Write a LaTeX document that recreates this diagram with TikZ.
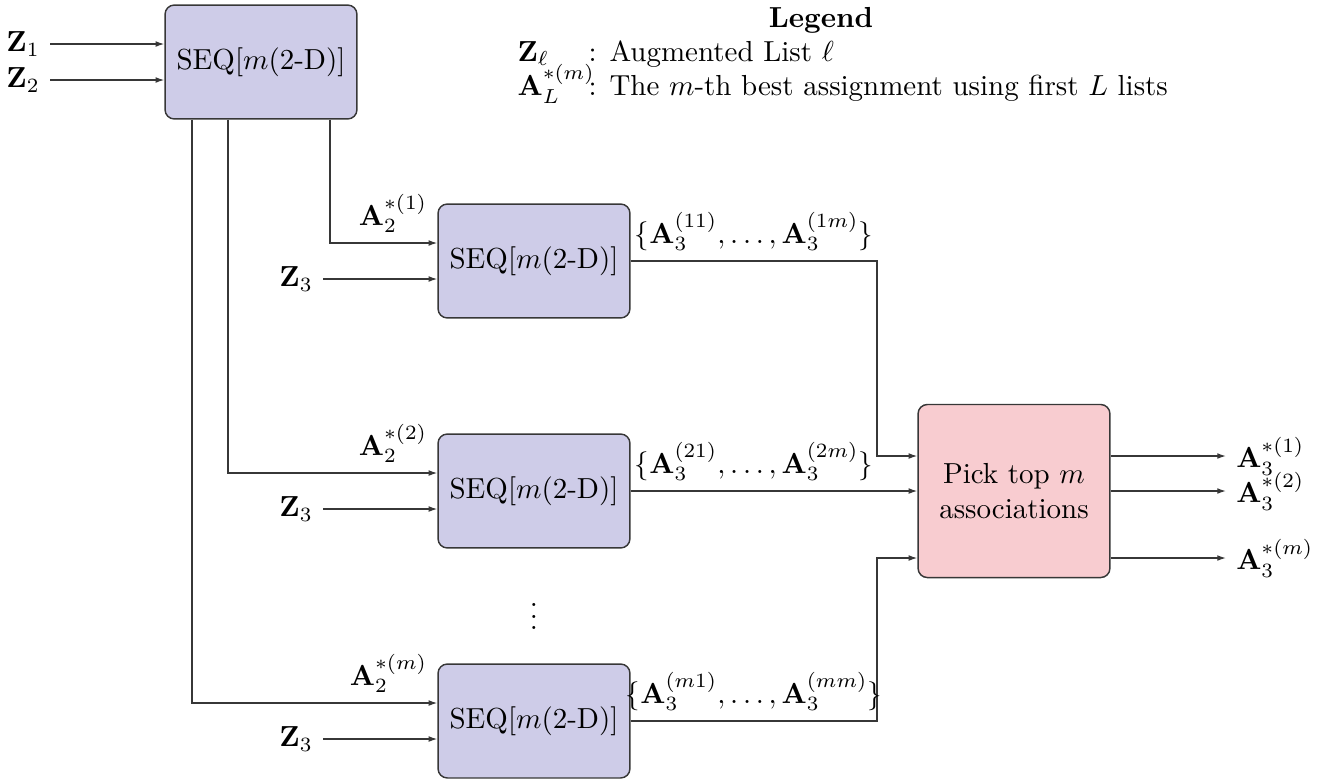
\documentclass[tikz,border=0pt]{standalone}
\usetikzlibrary{arrows.meta,calc}
\definecolor{seqfill}{RGB}{206,204,232}
\definecolor{pickfill}{RGB}{248,204,208}
\definecolor{edgec}{RGB}{55,55,55}
\begin{document}
\begin{tikzpicture}[x=0.345pt,y=-0.345pt,
  seqbox/.style={draw=edgec, fill=seqfill, rounded corners=3.2pt, minimum width=66.2pt, minimum height=39.3pt, inner sep=0pt, line width=0.5pt},
  pickbox/.style={draw=edgec, fill=pickfill, rounded corners=3.2pt, minimum width=66.2pt, minimum height=59.7pt, inner sep=0pt, line width=0.5pt, align=center},
  arr/.style={draw=edgec, line width=0.45pt, -{Latex[length=3pt,width=2pt]}},
  legtxt/.style={anchor=base west, inner sep=0pt}]
\useasboundingbox (0,0) rectangle (1317,780);

% boxes
\node[seqbox] (seq0) at (261,62) {SEQ[$m$(2-D)]};
\node[seqbox] (seqA) at (534,261) {SEQ[$m$(2-D)]};
\node[seqbox] (seqB) at (534,491) {SEQ[$m$(2-D)]};
\node[seqbox] (seqC) at (534,721) {SEQ[$m$(2-D)]};
\node[pickbox] (pick) at (1014,491) {Pick top $m$\\associations};

% legend
\node[anchor=base] (legtitle) at (821,27) {\textbf{Legend}};
\node[legtxt] (k1) at (517,61) {$\mathbf{Z}_\ell$};
\node[legtxt] (d1) at (588,61) {: Augmented List $\ell$};
\node[legtxt] (k2) at (517,95) {$\mathbf{A}_L^{*(m)}$};
\node[legtxt] (d2) at (588,95) {: The $m$-th best assignment using first $L$ lists};

% Z inputs to the first box
\node[anchor=east] (z1) at (50,44) {$\mathbf{Z}_1$};
\node[anchor=east] (z2) at (50,80) {$\mathbf{Z}_2$};
\draw[arr] (z1.east) -- (z1.east -| seq0.west);
\draw[arr] (z2.east) -- (z2.east -| seq0.west);

% vertical feeds
\coordinate (x1) at (330,0);
\coordinate (x2) at (228,0);
\coordinate (x3) at (192,0);
\coordinate (xr) at (877,0);

\coordinate (inA) at ($(seqA.west)+(0,-18)$);
\coordinate (inB) at ($(seqB.west)+(0,-18)$);
\coordinate (inC) at ($(seqC.west)+(0,-18)$);
\draw[arr] (seq0.south -| x1) |- (inA);
\draw[arr] (seq0.south -| x2) |- (inB);
\draw[arr] (seq0.south -| x3) |- (inC);
\node[anchor=south east] (lA) at (inA) {$\mathbf{A}_2^{*(1)}$};
\node[anchor=south east] (lB) at (inB) {$\mathbf{A}_2^{*(2)}$};
\node[anchor=south east] (lC) at (inC) {$\mathbf{A}_2^{*(m)}$};

% Z3 inputs
\node[anchor=east] (z3a) at (323,279) {$\mathbf{Z}_3$};
\node[anchor=east] (z3b) at (323,509) {$\mathbf{Z}_3$};
\node[anchor=east] (z3c) at (323,739) {$\mathbf{Z}_3$};
\draw[arr] (z3a.east) -- (z3a.east -| seqA.west);
\draw[arr] (z3b.east) -- (z3b.east -| seqB.west);
\draw[arr] (z3c.east) -- (z3c.east -| seqC.west);

% dots
\node (dots) at (534,608) {$\vdots$};

% outputs to pick
\coordinate (pA) at ($(pick.west)+(0,-35)$);
\coordinate (pC) at ($(pick.west)+(0,67)$);
\draw[arr] (seqA.east) -- (seqA.east -| xr) |- (pA);
\draw[arr] (seqB.east) -- (pick.west);
\draw[arr] (seqC.east) -- (seqC.east -| xr) |- (pC);
\node[anchor=south] (oA) at (754,261) {$\{\mathbf{A}_3^{(11)},\ldots,\mathbf{A}_3^{(1m)}\}$};
\node[anchor=south] (oB) at (754,491) {$\{\mathbf{A}_3^{(21)},\ldots,\mathbf{A}_3^{(2m)}\}$};
\node[anchor=south] (oC) at (754,721) {$\{\mathbf{A}_3^{(m1)},\ldots,\mathbf{A}_3^{(mm)}\}$};

% final outputs
\node[anchor=west] (r1) at (1226,456) {$\mathbf{A}_3^{*(1)}$};
\node[anchor=west] (r2) at (1226,491) {$\mathbf{A}_3^{*(2)}$};
\node[anchor=west] (r3) at (1226,558) {$\mathbf{A}_3^{*(m)}$};
\draw[arr] (r1.west -| pick.east) -- (r1.west);
\draw[arr] (r2.west -| pick.east) -- (r2.west);
\draw[arr] (r3.west -| pick.east) -- (r3.west);
\end{tikzpicture}
\end{document}
